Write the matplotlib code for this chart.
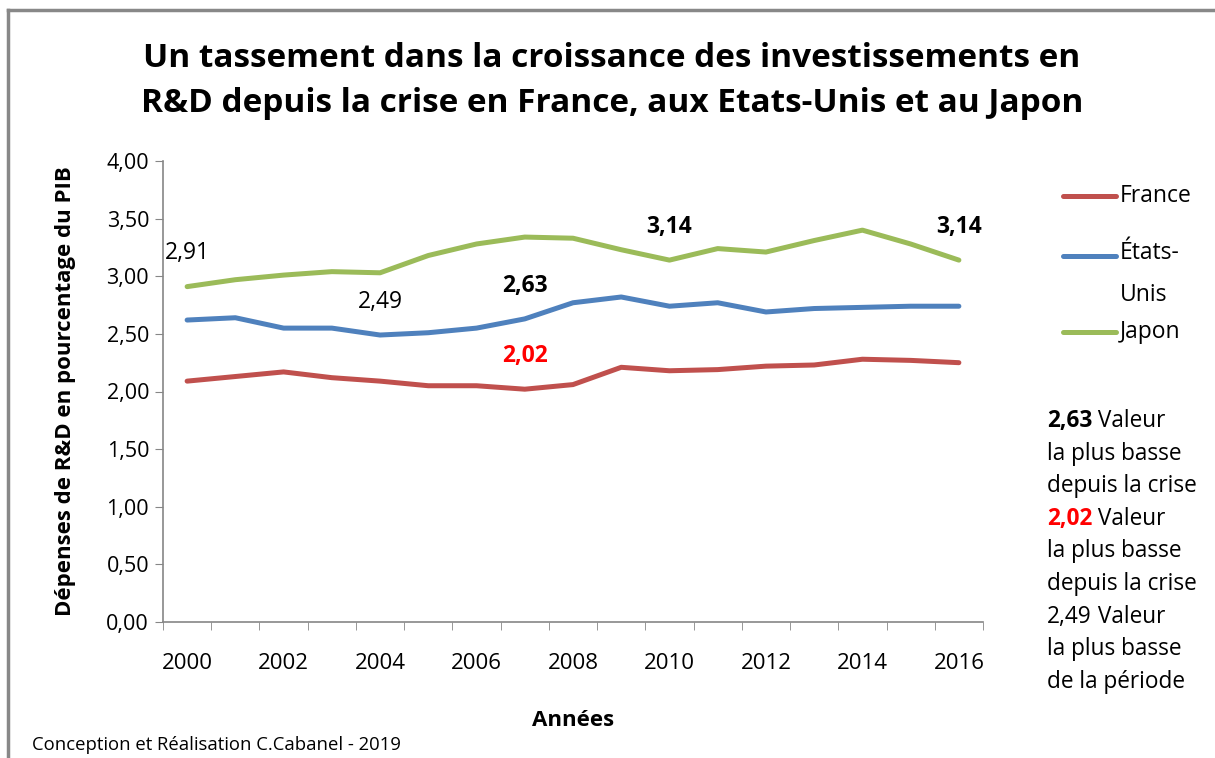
import matplotlib
matplotlib.use("Agg")
import matplotlib.pyplot as plt
from matplotlib.lines import Line2D

# data (OECD, dépenses de R&D en % du PIB)
years = list(range(2000, 2017))
france = [2.09, 2.13, 2.17, 2.12, 2.09, 2.05, 2.05, 2.02, 2.06, 2.21, 2.18, 2.19, 2.22, 2.23, 2.28, 2.27, 2.25]
usa = [2.62, 2.64, 2.55, 2.55, 2.49, 2.51, 2.55, 2.63, 2.77, 2.82, 2.74, 2.77, 2.69, 2.72, 2.73, 2.74, 2.74]
japon = [2.91, 2.97, 3.01, 3.04, 3.03, 3.18, 3.28, 3.34, 3.33, 3.23, 3.14, 3.24, 3.21, 3.31, 3.40, 3.28, 3.14]
series_names = ["France", "États-\nUnis", "Japon"]
colors = ["#C0504D", "#4F81BD", "#9BBB59"]
y_ticks = [0, 0.5, 1, 1.5, 2, 2.5, 3, 3.5, 4]

# (serie, year, text, bold, color) for the point labels
point_labels = [
    (japon, 2000, "2,91", False, "black"),
    (usa, 2004, "2,49", False, "black"),
    (usa, 2007, "2,63", True, "black"),
    (france, 2007, "2,02", True, "red"),
    (japon, 2010, "3,14", True, "black"),
    (japon, 2016, "3,14", True, "black"),
]

plt.rcParams["font.family"] = ["Open Sans", "DejaVu Sans"]

fig = plt.figure(figsize=(12.15, 7.58), dpi=100)
ax = fig.add_axes([163 / 1215, 1 - 622 / 758, 820 / 1215, 461 / 758])

x = list(range(len(years)))
for serie, col in zip([france, usa, japon], colors):
    ax.plot(x, serie, color=col, lw=3.6, solid_capstyle="round", solid_joinstyle="round")

for serie, yr, txt, bold, col in point_labels:
    i = years.index(yr)
    ax.annotate(txt, (i, serie[i]), xytext=(0, 24), textcoords="offset points",
                ha="center", va="center", fontsize=16.5, color=col,
                fontweight="bold" if bold else "normal")

ax.set_xlim(-0.5, len(years) - 0.5)
ax.set_ylim(0, 4)
ax.set_yticks(y_ticks)
ax.set_yticklabels([f"{v:.2f}".replace(".", ",") for v in y_ticks], fontsize=15.5)
ax.set_xticks(x[::2])
ax.set_xticklabels([str(y) for y in years[::2]], fontsize=16)
ax.set_xticks([i - 0.5 for i in range(len(years) + 1)], minor=True)
ax.tick_params(axis="x", which="major", length=0, pad=22)
ax.tick_params(axis="x", which="minor", length=6, color="#868686")
ax.tick_params(axis="y", length=6, color="#868686", pad=4)

for s in ["top", "right"]:
    ax.spines[s].set_visible(False)
for s in ["left", "bottom"]:
    ax.spines[s].set_color("#868686")
    ax.spines[s].set_linewidth(1.2)

ax.set_ylabel("Dépenses de R&D en pourcentage du PIB", fontsize=16, fontweight="bold", labelpad=22)
ax.set_xlabel("Années", fontsize=16, fontweight="bold", labelpad=26)

fig.text(612 / 1215, 1 - 81 / 758, "Un tassement dans la croissance des investissements en\n"
         "R&D depuis la crise en France, aux Etats-Unis et au Japon",
         ha="center", va="center", fontsize=24, fontweight="bold", linespacing=1.5)

# legend drawn by hand to keep Excel layout
leg_y = [196, 256, 332]
for name, col, yy in zip(series_names, colors, leg_y):
    fy = 1 - yy / 758
    fig.add_artist(Line2D([1063 / 1215, 1116 / 1215], [fy, fy], color=col, lw=3.6,
                          solid_capstyle="round", transform=fig.transFigure))
    if "\n" in name:
        fig.text(1120 / 1215, 1 - 241 / 758, name, ha="left", va="top",
                 fontsize=16.5, linespacing=2.0)
    else:
        fig.text(1120 / 1215, fy, name, ha="left", va="center", fontsize=16.5)

# right-hand notes
notes = [
    ("2,63", True, "black", " Valeur"),
    ("la plus basse", False, "black", ""),
    ("depuis la crise", False, "black", ""),
    ("2,02", True, "red", " Valeur"),
    ("la plus basse", False, "black", ""),
    ("depuis la crise", False, "black", ""),
    ("2,49", False, "black", " Valeur"),
    ("la plus basse", False, "black", ""),
    ("de la période", False, "black", ""),
]
for k, (first, bold, col, rest) in enumerate(notes):
    fy = 1 - (421 + k * 32.6) / 758
    t = fig.text(1047 / 1215, fy, first, ha="left", va="center", fontsize=16.3,
                 color=col, fontweight="bold" if bold else "normal")
    if rest:
        fig.add_artist(plt.Annotation(rest, xy=(1, 0.5), xycoords=t, va="center",
                                      ha="left", fontsize=16.3))

fig.text(32 / 1215, 1 - 745 / 758, "Conception et Réalisation C.Cabanel - 2019",
         ha="left", va="center", fontsize=13.3)

# outer frame (left and top visible)
fig.add_artist(Line2D([8 / 1215, 8 / 1215], [0, 1 - 10 / 758], color="#888888", lw=2.5,
                      transform=fig.transFigure))
fig.add_artist(Line2D([8 / 1215, 1], [1 - 10 / 758, 1 - 10 / 758], color="#888888", lw=2.5,
                      transform=fig.transFigure))

fig.savefig("out.png", dpi=100)
